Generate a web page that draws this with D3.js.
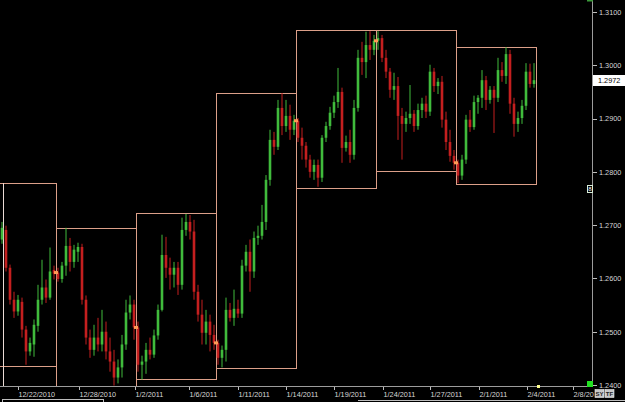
<!DOCTYPE html>
<html><head><meta charset="utf-8">
<script src="https://cdn.jsdelivr.net/npm/d3@7"></script>
<style>
html,body{margin:0;padding:0;background:#000;overflow:hidden;}
svg{display:block;}
text{font-family:"Liberation Sans",Arial,sans-serif;}
</style></head><body>
<svg id="chart" width="625" height="402"></svg>
<script>
// ---- DATA (candles) ----
const openP = [
1.2673,1.2691,1.2620,1.2560,1.2538,1.2556,1.2504,1.2463,1.2476,1.2511,1.2560,1.2583,1.2564,1.2616,
1.2611,1.2599,1.2624,1.2661,1.2631,1.2650,1.2659,1.2560,1.2489,1.2466,1.2489,1.2476,1.2500,1.2463,1.2444,1.2414,1.2433,1.2476,1.2536,1.2551,
1.2508,1.2438,1.2444,1.2466,1.2457,1.2493,1.2541,1.2644,1.2620,1.2607,1.2620,1.2588,1.2691,1.2706,1.2688,1.2575,1.2532,1.2498,1.2519,1.2494,
1.2479,1.2451,1.2466,1.2541,1.2526,1.2543,1.2534,1.2624,1.2650,1.2613,1.2676,1.2680,1.2706,1.2785,1.2860,1.2847,1.2920,1.2886,1.2905,1.2879,
1.2896,1.2864,1.2849,1.2823,1.2800,1.2813,1.2789,1.2864,1.2886,1.2911,1.2931,1.2950,1.2845,1.2856,1.2832,1.2920,1.3014,1.3006,1.3038,1.3029,
1.3046,1.3051,1.3014,1.2988,1.2954,1.2961,1.2905,1.2890,1.2901,1.2909,1.2886,1.2916,1.2928,1.2913,1.2988,1.2961,1.2969,1.2898,1.2856,1.2830,
1.2817,1.2793,1.2823,1.2898,1.2884,1.2931,1.2939,1.2972,1.2935,1.2954,1.2939,1.2991,1.2980,1.3021,1.2928,1.2890,1.2901,1.2924,1.2988,1.2965];
const highP = [
1.2706,1.2699,1.2626,1.2575,1.2569,1.2564,1.2511,1.2489,1.2523,1.2588,1.2635,1.2598,1.2658,1.2624,
1.2620,1.2631,1.2695,1.2676,1.2663,1.2667,1.2665,1.2568,1.2504,1.2513,1.2526,1.2541,1.2519,1.2489,1.2466,1.2448,1.2494,1.2560,1.2568,1.2560,
1.2519,1.2455,1.2479,1.2489,1.2504,1.2551,1.2682,1.2678,1.2639,1.2631,1.2631,1.2714,1.2721,1.2719,1.2710,1.2588,1.2560,1.2541,1.2532,1.2513,
1.2485,1.2474,1.2564,1.2554,1.2579,1.2560,1.2635,1.2663,1.2673,1.2688,1.2699,1.2738,1.2794,1.2879,1.2875,1.2935,1.2948,1.2935,1.2926,1.2907,
1.2901,1.2883,1.2856,1.2832,1.2823,1.2823,1.2869,1.2894,1.2922,1.2943,1.2995,1.2958,1.2868,1.2879,1.2935,1.3029,1.3044,1.3063,1.3064,1.3057,
1.3064,1.3057,1.3029,1.2995,1.2986,1.2978,1.2920,1.2913,1.2963,1.2916,1.2928,1.2939,1.2943,1.3001,1.2995,1.2976,1.2980,1.2913,1.2879,1.2841,
1.2823,1.2832,1.2907,1.2916,1.2943,1.2944,1.2991,1.2980,1.2961,1.2961,1.3014,1.3006,1.3034,1.3029,1.2939,1.2913,1.2935,1.3004,1.3003,1.3004];
const lowP = [
1.2665,1.2613,1.2551,1.2526,1.2530,1.2489,1.2438,1.2455,1.2453,1.2500,1.2551,1.2554,1.2560,1.2598,
1.2594,1.2592,1.2605,1.2613,1.2620,1.2631,1.2551,1.2476,1.2451,1.2455,1.2463,1.2463,1.2448,1.2425,1.2399,1.2403,1.2414,1.2466,1.2523,1.2485,
1.2425,1.2410,1.2421,1.2448,1.2451,1.2485,1.2538,1.2601,1.2579,1.2583,1.2569,1.2579,1.2680,1.2673,1.2560,1.2519,1.2476,1.2476,1.2463,1.2466,
1.2438,1.2433,1.2444,1.2519,1.2511,1.2526,1.2526,1.2613,1.2575,1.2601,1.2663,1.2673,1.2691,1.2774,1.2832,1.2841,1.2869,1.2875,1.2860,1.2869,
1.2856,1.2823,1.2808,1.2789,1.2785,1.2772,1.2781,1.2856,1.2879,1.2901,1.2920,1.2817,1.2838,1.2817,1.2823,1.2913,1.2982,1.2976,1.3010,1.3019,
1.3029,1.3006,1.2976,1.2939,1.2935,1.2860,1.2823,1.2875,1.2890,1.2875,1.2879,1.2901,1.2901,1.2905,1.2950,1.2946,1.2883,1.2841,1.2819,1.2804,
1.2779,1.2785,1.2815,1.2875,1.2879,1.2909,1.2920,1.2916,1.2928,1.2873,1.2931,1.2969,1.2965,1.2909,1.2866,1.2875,1.2890,1.2916,1.2958,1.2958];
const closeP = [
1.2695,1.2620,1.2560,1.2538,1.2560,1.2504,1.2463,1.2479,1.2513,1.2560,1.2583,1.2564,1.2613,1.2609,
1.2599,1.2624,1.2661,1.2631,1.2654,1.2659,1.2560,1.2489,1.2466,1.2489,1.2476,1.2500,1.2463,1.2444,1.2414,1.2433,1.2476,1.2536,1.2551,1.2508,
1.2438,1.2444,1.2466,1.2457,1.2493,1.2541,1.2644,1.2620,1.2607,1.2620,1.2588,1.2691,1.2706,1.2688,1.2575,1.2532,1.2498,1.2519,1.2494,1.2479,
1.2451,1.2466,1.2541,1.2526,1.2543,1.2534,1.2624,1.2650,1.2613,1.2676,1.2680,1.2706,1.2785,1.2860,1.2847,1.2920,1.2886,1.2905,1.2879,1.2896,
1.2864,1.2849,1.2823,1.2800,1.2813,1.2789,1.2864,1.2886,1.2911,1.2931,1.2950,1.2845,1.2856,1.2832,1.2920,1.3014,1.3006,1.3038,1.3029,1.3046,
1.3051,1.3014,1.2988,1.2954,1.2961,1.2905,1.2890,1.2901,1.2909,1.2886,1.2916,1.2928,1.2913,1.2988,1.2961,1.2969,1.2898,1.2856,1.2830,1.2817,
1.2793,1.2823,1.2898,1.2884,1.2931,1.2939,1.2972,1.2935,1.2954,1.2939,1.2991,1.2980,1.3021,1.2928,1.2890,1.2901,1.2924,1.2988,1.2965,1.2972];

// weekly range boxes (bar index start/end, high/low); week 0 began before the visible data
const weekStart = [-3, 14, 34, 54, 74, 94, 114];
const weekEnd   = [14, 34, 54, 74, 94, 114, 134];
const weekHigh  = [1.2779, 1.2695, 1.2723, 1.2948, 1.3066, 1.3066, 1.3034];
const weekLow   = [1.2436, 1.2399, 1.2412, 1.2431, 1.2770, 1.2802, 1.2778];

// axis ticks
const dateTickPos    = [4.5, 19.75, 33.75, 47.25, 59.5, 71.5, 83.5, 95.75, 107.5, 119.75, 131.75, 143.25];
const dateTickLabels = ["12/22/2010","12/28/2010","1/2/2011","1/6/2011","1/11/2011","1/14/2011","1/19/2011","1/24/2011","1/27/2011","2/1/2011","2/4/2011","2/8/20"];
const priceTicks = [1.24, 1.25, 1.26, 1.27, 1.28, 1.29, 1.30, 1.31];
const lastPrice = 1.2972;

// ---- DRAW ----
const W = 625, H = 402;
const svg = d3.select('#chart');
svg.append('rect').attr('width', W).attr('height', H).attr('fill', '#000');

const x = d3.scaleLinear().domain([0, 147.5]).range([0, 590]);
const y = d3.scaleLinear().domain([1.24, 1.31]).range([385, 12]);

const defs = svg.append('defs');
defs.append('clipPath').attr('id', 'plotclip').append('rect')
  .attr('x', 0).attr('y', 0).attr('width', 592).attr('height', 386);

const plot = svg.append('g').attr('clip-path', 'url(#plotclip)');

// weekly boxes
const boxColor = '#dc9f89';
const weeks = d3.range(weekStart.length);
const px = v => Math.round(x(v));
plot.selectAll('rect.week').data(weeks).join('rect')
  .attr('class', 'week')
  .attr('x', k => px(weekStart[k]) + 0.5)
  .attr('y', k => Math.round(y(weekHigh[k])) + 0.5)
  .attr('width', k => px(weekEnd[k]) - px(weekStart[k]))
  .attr('height', k => Math.round(y(weekLow[k])) - Math.round(y(weekHigh[k])))
  .attr('fill', 'none').attr('stroke', boxColor).attr('stroke-width', 1)
  .attr('shape-rendering', 'crispEdges');
// light separator line at the left edge
plot.append('line')
  .attr('x1', px(0.625) + 0.5).attr('x2', px(0.625) + 0.5)
  .attr('y1', Math.round(y(weekHigh[0]))).attr('y2', 386)
  .attr('stroke', '#eadbd5').attr('stroke-width', 1).attr('shape-rendering', 'crispEdges');

// candles
const up = '#40bb3c', down = '#c41f1f';
const idx = d3.range(closeP.length);
const bodyW = 2.6;
const cg = plot.append('g');
cg.selectAll('line.wick').data(idx).join('line')
  .attr('class', 'wick')
  .attr('x1', i => x(i + 0.5)).attr('x2', i => x(i + 0.5))
  .attr('y1', i => y(highP[i])).attr('y2', i => y(lowP[i]))
  .attr('stroke', i => closeP[i] >= openP[i] ? up : down).attr('stroke-width', 1);
cg.selectAll('rect.body').data(idx).join('rect')
  .attr('class', 'body')
  .attr('x', i => x(i + 0.5) - bodyW / 2)
  .attr('width', bodyW)
  .attr('y', i => Math.min(y(openP[i]), y(closeP[i])))
  .attr('height', i => Math.max(1, Math.abs(y(openP[i]) - y(closeP[i]))))
  .attr('fill', i => closeP[i] >= openP[i] ? up : down);

// weekly open markers
plot.selectAll('rect.wopen').data(weeks.slice(1)).join('rect')
  .attr('class', 'wopen')
  .attr('x', k => x(weekStart[k]) - 2).attr('y', k => y(openP[weekStart[k]]) - 1.5)
  .attr('width', 4).attr('height', 3).attr('fill', '#ff9a55');

// price axis (right)
svg.append('line').attr('x1', 592.5).attr('x2', 592.5).attr('y1', 0).attr('y2', 387)
  .attr('stroke', '#9c9c9c').attr('shape-rendering', 'crispEdges');
const ya = svg.append('g').attr('transform', 'translate(592.5,0)')
  .call(d3.axisRight(y).tickValues(priceTicks).tickFormat(d3.format('.4f'))
    .tickSize(4).tickSizeOuter(0).tickPadding(2.5));
ya.select('.domain').remove();
ya.selectAll('line').attr('stroke', '#bdbdbd').attr('shape-rendering', 'crispEdges');
ya.selectAll('text').attr('fill', '#d6d6d6').style('font-size', '7.3px')
  .style('font-family', '"Liberation Sans",Arial,sans-serif');

// last price label
svg.append('rect').attr('x', 593).attr('y', Math.round(y(lastPrice)) - 5)
  .attr('width', 32).attr('height', 11).attr('fill', '#ffffff');
svg.append('text').attr('x', 598).attr('y', y(lastPrice) + 3)
  .attr('fill', '#000').style('font-size', '7.3px').text(d3.format('.4f')(lastPrice));

// date axis (bottom)
svg.append('line').attr('x1', 0).attr('x2', 593).attr('y1', 386.5).attr('y2', 386.5)
  .attr('stroke', '#9c9c9c').attr('shape-rendering', 'crispEdges');
const xa = svg.append('g').attr('transform', 'translate(0,386.5)')
  .call(d3.axisBottom(x).tickValues(dateTickPos).tickFormat((d, i) => dateTickLabels[i])
    .tickSize(3).tickSizeOuter(0).tickPadding(2));
xa.select('.domain').remove();
xa.selectAll('line').attr('stroke', '#bdbdbd').attr('shape-rendering', 'crispEdges');
xa.selectAll('text').attr('fill', '#d6d6d6').attr('text-anchor', 'start')
  .style('font-size', '7.3px').style('font-family', '"Liberation Sans",Arial,sans-serif');

// small widgets
svg.append('rect').attr('x', 587).attr('y', 0).attr('width', 6).attr('height', 1.5).attr('fill', '#3a9a3a');
svg.append('rect').attr('x', 587.5).attr('y', 185.5).attr('width', 5).attr('height', 7)
  .attr('fill', '#000').attr('stroke', '#d8ecd8').attr('stroke-width', 1);
svg.append('text').attr('x', 590).attr('y', 191.3).attr('text-anchor', 'middle')
  .attr('fill', '#ffffff').style('font-size', '6px').text('8');
svg.append('rect').attr('x', 587).attr('y', 381).attr('width', 6).attr('height', 6).attr('fill', '#22e022');
svg.append('rect').attr('x', 537).attr('y', 385).attr('width', 3).attr('height', 3).attr('fill', '#ffff90');
[['SY', 595], ['TF', 605]].forEach(([t, bx]) => {
  svg.append('rect').attr('x', bx).attr('y', 389.5).attr('width', 9).attr('height', 8)
    .attr('fill', '#c8c8c8').attr('stroke', '#eeeeee').attr('stroke-width', 0.6);
  svg.append('text').attr('x', bx + 4.5).attr('y', 396).attr('text-anchor', 'middle')
    .attr('fill', '#222').style('font-size', '6px').style('font-weight', 'bold').text(t);
});
svg.append('rect').attr('x', 2.5).attr('y', 399.5).attr('width', 101).attr('height', 4)
  .attr('fill', 'none').attr('stroke', '#bcbcbc').attr('shape-rendering', 'crispEdges');
svg.append('line').attr('x1', 358).attr('x2', 625).attr('y1', 400.5).attr('y2', 400.5)
  .attr('stroke', '#bcbcbc').attr('shape-rendering', 'crispEdges');
</script>
</body></html>
